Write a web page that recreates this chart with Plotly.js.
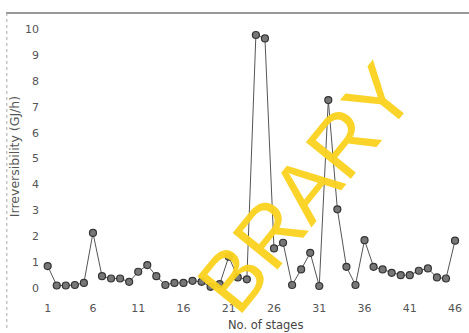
<!DOCTYPE html>
<html>
<head>
<meta charset="utf-8">
<script src="https://cdn.plot.ly/plotly-3.0.1.min.js"></script>
<style>html,body{margin:0;padding:0;background:#fff;}#chart{width:469px;height:333px;}</style>
</head>
<body>
<div id="chart"></div>
<script>
var stages = [1,2,3,4,5,6,7,8,9,10,11,12,13,14,15,16,17,18,19,20,21,22,23,24,25,26,27,28,29,30,31,32,33,34,35,36,37,38,39,40,41,42,43,44,45,46];
var irreversibility = [0.85,0.1,0.1,0.12,0.2,2.13,0.46,0.37,0.37,0.24,0.63,0.89,0.46,0.12,0.2,0.2,0.28,0.24,0.05,0.15,1.21,0.41,0.34,9.77,9.64,1.53,1.75,0.12,0.72,1.36,0.08,7.26,3.04,0.82,0.12,1.85,0.82,0.72,0.59,0.5,0.5,0.67,0.76,0.41,0.37,1.83];
var xTicks = [1,6,11,16,21,26,31,36,41,46];
var yTicks = [0,1,2,3,4,5,6,7,8,9,10];
var xTitle = 'No. of stages';
var yTitle = 'Irreversibility (GJ/h)';
var watermark = 'BRARY';

var trace = {
  x: stages, y: irreversibility, type: 'scatter', mode: 'lines+markers',
  line: {color: '#555', width: 1},
  marker: {color: '#777', size: 7, line: {color: '#333', width: 1.2}},
  hoverinfo: 'none'
};
var layout = {
  width: 469, height: 333,
  margin: {l: 40, r: 4, t: 13, b: 33},
  paper_bgcolor: '#fff', plot_bgcolor: '#fff',
  showlegend: false,
  font: {family: 'DejaVu Sans, sans-serif', color: '#555', size: 11},
  xaxis: {
    range: [0.15, 47.1], tickvals: xTicks, ticktext: xTicks.map(String),
    showgrid: false, zeroline: false, showline: false, ticks: '',
    tickfont: {size: 11, color: '#555'}
  },
  yaxis: {
    range: [-0.46, 10.62], tickvals: yTicks, ticktext: yTicks.map(String),
    showgrid: false, zeroline: false, showline: false, ticks: '',
    tickfont: {size: 11, color: '#555'},
    title: {text: yTitle, font: {size: 12.5, color: '#555'}, standoff: 2}
  },
  shapes: [
    {type: 'line', xref: 'paper', yref: 'paper', x0: -0.08, x1: 1.01, y0: 1, y1: 1, line: {color: '#333', width: 1.2}},
    {type: 'line', xref: 'paper', yref: 'paper', x0: -0.078, x1: -0.078, y0: 1, y1: -0.1, line: {color: '#aaa', width: 1, dash: 'dot'}}
  ],
  annotations: [
    {text: xTitle, xref: 'paper', yref: 'paper', x: 0.53, y: -0.087, xanchor: 'center', yanchor: 'middle', showarrow: false,
     font: {size: 11.5, color: '#444'}},
    {text: watermark, xref: 'paper', yref: 'paper', x: 0.626, y: 0.39, xanchor: 'center', yanchor: 'middle', showarrow: false,
     textangle: -51, font: {family: 'Liberation Sans, Arial, sans-serif', size: 84, color: 'rgba(250,210,30,0.95)'}}
  ]
};
Plotly.newPlot('chart', [trace], layout, {displayModeBar: false, staticPlot: true});
</script>
</body>
</html>
